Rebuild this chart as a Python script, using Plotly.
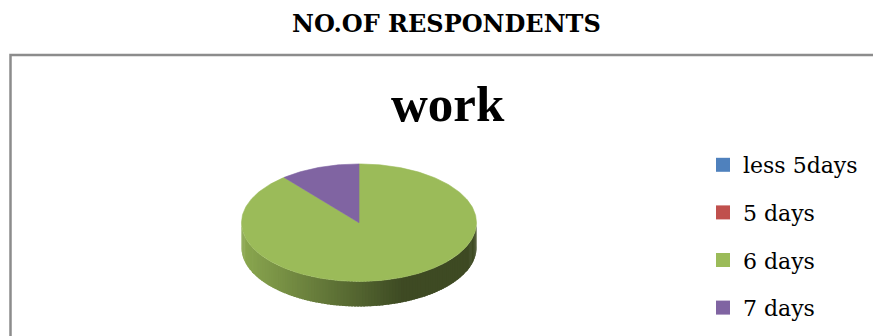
import math
import plotly.graph_objects as go

# ---- data ----
categories = ["less 5days", "5 days", "6 days", "7 days"]
values = [0, 0, 89, 11]
colors = ["#4f81bd", "#c0504d", "#9bbb59", "#8064a2"]
chart_title = "work"
page_title = "NO.OF RESPONDENTS"

# ---- geometry (axis units) ----
RX, RY, DEPTH = 1.0, 0.5, 0.213
W, H = 873, 336
PX = 117.5  # pixels per axis unit
CX_PX, CY_PX = 359, 222.7


def hex_to_rgb(h):
    h = h.lstrip("#")
    return tuple(int(h[i:i + 2], 16) for i in (0, 2, 4))


def shade(h, f):
    r, g, b = hex_to_rgb(h)
    return "rgb(%d,%d,%d)" % (r * f, g * f, b * f)


def pt(theta_deg, dy=0.0):
    t = math.radians(theta_deg)
    return RX * math.sin(t), RY * math.cos(t) + dy


total = sum(values)
bounds = []
acc = 0.0
for v in values:
    a0 = acc / total * 360.0
    acc += v
    a1 = acc / total * 360.0
    bounds.append((a0, a1))

fig = go.Figure()

# side walls (visible front: 90..270 deg clockwise from top)
STEP = 1.5
for (a0, a1), col, v in zip(bounds, colors, values):
    if v <= 0:
        continue
    lo, hi = max(a0, 90.0), min(a1, 270.0)
    t = lo
    while t < hi - 1e-9:
        t2 = min(t + STEP, hi)
        te = min(t2 + STEP * 0.6, hi)  # overlap to hide seams
        xs, ys = [], []
        n = 4
        for k in range(n + 1):
            x, y = pt(t + (te - t) * k / n)
            xs.append(x); ys.append(y)
        for k in range(n, -1, -1):
            x, y = pt(t + (te - t) * k / n, -DEPTH)
            xs.append(x); ys.append(y)
        xm = math.sin(math.radians((t + t2) / 2))
        f = max(0.40, 0.90 - (xm + 1) * 0.365)
        c = shade(col, f)
        fig.add_trace(go.Scatter(x=xs, y=ys, fill="toself", fillcolor=c,
                                 mode="lines", line=dict(color=c, width=0),
                                 hoverinfo="skip", showlegend=False))
        t = t2

# top surface slices
for (a0, a1), col, v, name in zip(bounds, colors, values, categories):
    if v <= 0:
        continue
    xs, ys = [0.0], [0.0]
    n = max(2, int((a1 - a0) / 1.0))
    for k in range(n + 1):
        x, y = pt(a0 + (a1 - a0) * k / n)
        xs.append(x); ys.append(y)
    xs.append(0.0); ys.append(0.0)
    fig.add_trace(go.Scatter(x=xs, y=ys, fill="toself", fillcolor=col,
                             mode="lines", line=dict(color=col, width=0.6),
                             name=name, hoverinfo="name", showlegend=False))

# legend entries
for name, col in zip(categories, colors):
    fig.add_trace(go.Scatter(x=[None], y=[None], mode="markers", name=name,
                             legendgroup=name,
                             marker=dict(symbol="square", size=14, color=col)))

fig.update_layout(
    width=W, height=H,
    margin=dict(l=0, r=0, t=0, b=0),
    paper_bgcolor="white", plot_bgcolor="white",
    xaxis=dict(range=[-CX_PX / PX, (W - CX_PX) / PX], visible=False, fixedrange=True),
    yaxis=dict(range=[-(H - CY_PX) / PX, CY_PX / PX], visible=False, fixedrange=True),
    showlegend=True,
    legend=dict(x=703 / W, y=1 - 144 / H, xanchor="left", yanchor="top",
                font=dict(family="DejaVu Serif", size=22, color="black"),
                tracegroupgap=16, bgcolor="rgba(0,0,0,0)"),
    shapes=[dict(type="rect", xref="paper", yref="paper",
                 x0=10.5 / W, x1=1.05, y0=-0.1, y1=1 - 55 / H,
                 line=dict(color="#8c8c8c", width=2.5), layer="below")],
    annotations=[
        dict(text="<b>%s</b>" % page_title, xref="paper", yref="paper",
             x=447 / W, y=1 - 24 / H, showarrow=False, xanchor="center", yanchor="middle",
             font=dict(family="DejaVu Serif", size=24, color="black")),
        dict(text="<b>%s</b>" % chart_title, xref="paper", yref="paper",
             x=448 / W, y=1 - 104 / H, showarrow=False, xanchor="center", yanchor="middle",
             font=dict(family="Liberation Serif", size=51, color="black")),
    ],
)

fig.write_html("out.html", config={"displayModeBar": False},
               post_script="document.body.style.margin='0';document.body.style.overflow='hidden';")
